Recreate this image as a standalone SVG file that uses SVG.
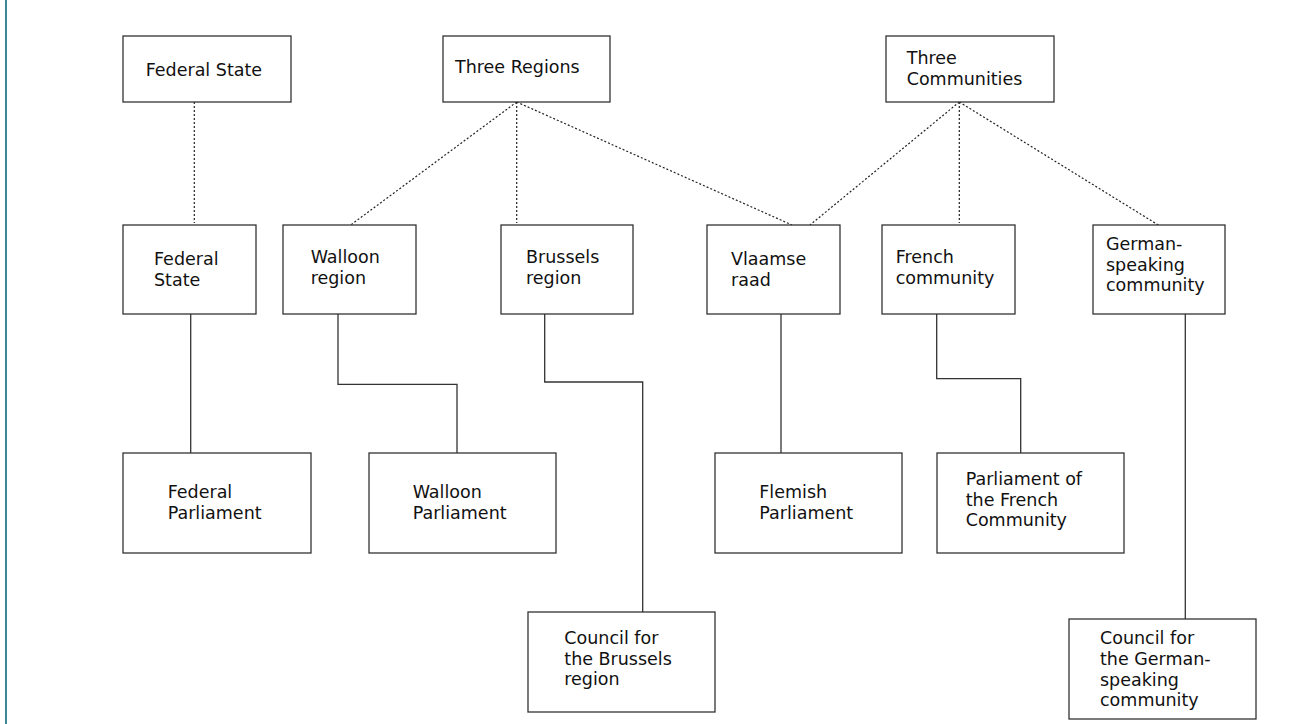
<svg xmlns="http://www.w3.org/2000/svg" width="1315" height="724" viewBox="0 0 1315 724">
<style>
.box{fill:#fff;stroke:#333;stroke-width:1.3}
.t{font-family:"DejaVu Sans",sans-serif;font-size:17.5px;fill:#111}
.dot{fill:none;stroke:#222;stroke-width:1.2;stroke-dasharray:2 2}
.sol{fill:none;stroke:#333;stroke-width:1.3}
</style>
<rect x="0" y="0" width="1315" height="724" fill="#fff"/>
<line x1="6" y1="0" x2="6" y2="724" stroke="#3a8990" stroke-width="2"/>
<g id="connectors">
<path class="dot" d="M194.3 102V223"/>
<path class="dot" d="M516.7 102L350.7 225"/>
<path class="dot" d="M516.7 102V223"/>
<path class="dot" d="M516.7 102L792 225"/>
<path class="dot" d="M959.3 102L810 225"/>
<path class="dot" d="M959.3 102V223"/>
<path class="dot" d="M959.3 102L1158.3 225"/>
<path class="sol" d="M190.7 314V453"/>
<path class="sol" d="M338 314V384.3H457V453"/>
<path class="sol" d="M544.7 314V382H642.7V612"/>
<path class="sol" d="M781 314V453"/>
<path class="sol" d="M936.7 314V378.7H1020.7V453"/>
<path class="sol" d="M1185.3 314V619"/>
</g>
<g id="federal-state-top"><rect class="box" x="123" y="36" width="168" height="66"/><text class="t" x="145.7" y="76">Federal State</text></g>
<g id="three-regions"><rect class="box" x="443" y="36" width="167" height="66"/><text class="t" x="455" y="73.3">Three Regions</text></g>
<g id="three-communities"><rect class="box" x="886" y="36" width="168" height="66"/><text class="t" x="906.7" y="64.3">Three<tspan x="906.7" dy="20.7">Communities</tspan></text></g>
<g id="federal-state"><rect class="box" x="123" y="225" width="133" height="89"/><text class="t" x="154" y="265">Federal<tspan x="154" dy="20.7">State</tspan></text></g>
<g id="walloon-region"><rect class="box" x="283" y="225" width="133" height="89"/><text class="t" x="310.7" y="263.3">Walloon<tspan x="310.7" dy="20.7">region</tspan></text></g>
<g id="brussels-region"><rect class="box" x="501" y="225" width="132" height="89"/><text class="t" x="526" y="263.3">Brussels<tspan x="526" dy="20.7">region</tspan></text></g>
<g id="vlaamse-raad"><rect class="box" x="707" y="225" width="133" height="89"/><text class="t" x="731" y="265">Vlaamse<tspan x="731" dy="20.7">raad</tspan></text></g>
<g id="french-community"><rect class="box" x="882" y="225" width="133" height="89"/><text class="t" x="895.7" y="263.3">French<tspan x="895.7" dy="20.7">community</tspan></text></g>
<g id="german-community"><rect class="box" x="1093" y="225" width="132" height="89"/><text class="t" x="1106" y="250">German-<tspan x="1106" dy="20.7">speaking</tspan><tspan x="1106" dy="20.7">community</tspan></text></g>
<g id="federal-parliament"><rect class="box" x="123" y="453" width="188" height="100"/><text class="t" x="167.7" y="498.3">Federal<tspan x="167.7" dy="20.7">Parliament</tspan></text></g>
<g id="walloon-parliament"><rect class="box" x="369" y="453" width="187" height="100"/><text class="t" x="412.7" y="498.3">Walloon<tspan x="412.7" dy="20.7">Parliament</tspan></text></g>
<g id="brussels-council"><rect class="box" x="528" y="612" width="187" height="100"/><text class="t" x="564.3" y="644">Council for<tspan x="564.3" dy="20.7">the Brussels</tspan><tspan x="564.3" dy="20.7">region</tspan></text></g>
<g id="flemish-parliament"><rect class="box" x="715" y="453" width="187" height="100"/><text class="t" x="759.3" y="498.3">Flemish<tspan x="759.3" dy="20.7">Parliament</tspan></text></g>
<g id="french-parliament"><rect class="box" x="937" y="453" width="187" height="100"/><text class="t" x="965.7" y="485">Parliament of<tspan x="965.7" dy="20.7">the French</tspan><tspan x="965.7" dy="20.7">Community</tspan></text></g>
<g id="german-council"><rect class="box" x="1069" y="619" width="187" height="100"/><text class="t" x="1100" y="644.3">Council for<tspan x="1100" dy="20.7">the German-</tspan><tspan x="1100" dy="20.7">speaking</tspan><tspan x="1100" dy="20.7">community</tspan></text></g>
</svg>
